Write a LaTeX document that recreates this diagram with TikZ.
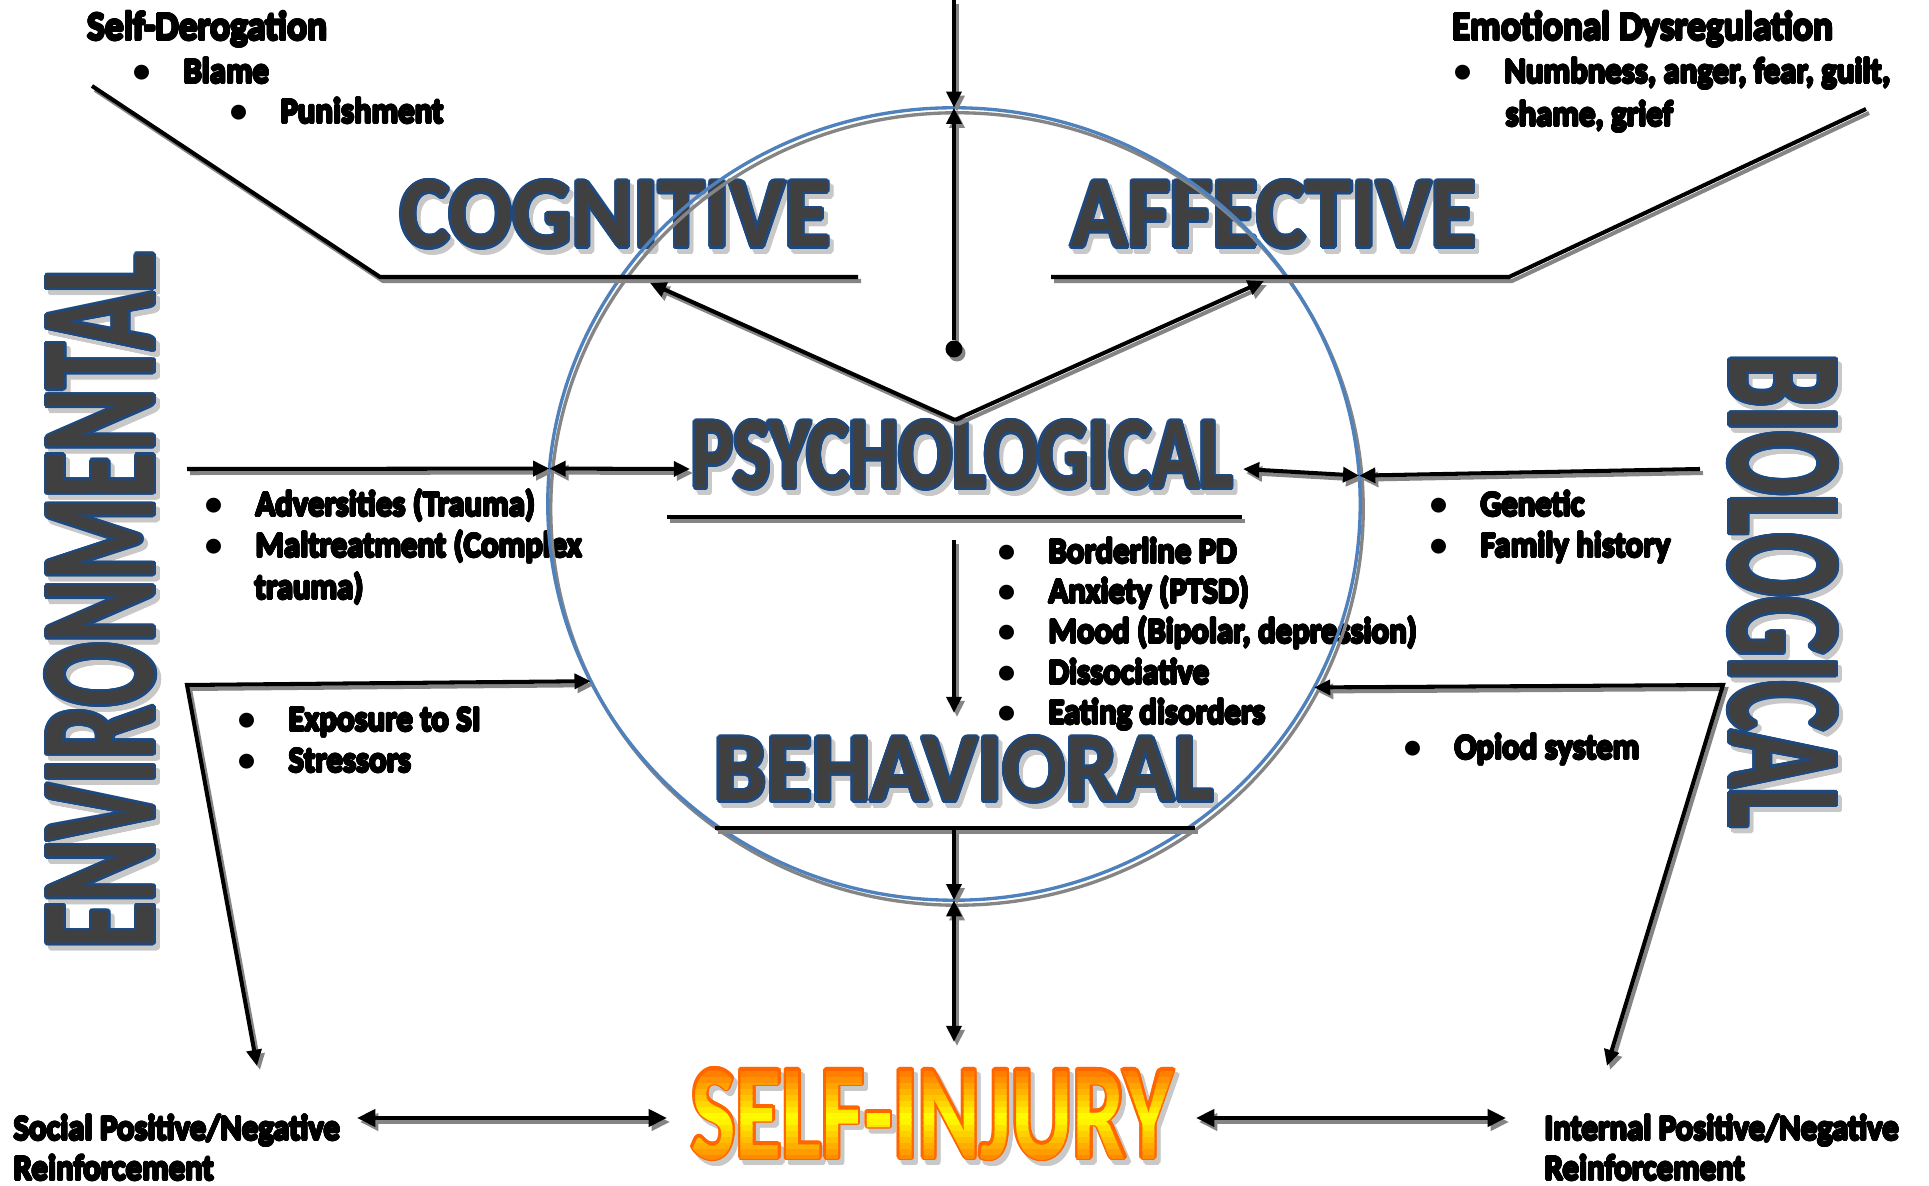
\documentclass[tikz,border=0pt]{standalone}
\usepackage{fontspec}
\setmainfont{Carlito}
\usepackage{graphicx}
\usepackage{contour}
\usetikzlibrary{arrows.meta,shapes.geometric}

\newdimen\pxu
\pxu=0.28453pt

\definecolor{wordgray}{HTML}{404040}
\definecolor{wordblue}{HTML}{1F497D}
\definecolor{wordshade}{HTML}{C8C8C8}
\definecolor{ringblue}{HTML}{4F81BD}
\definecolor{lineshade}{HTML}{858585}
\definecolor{siorange}{HTML}{FF6600}
\definecolor{siyellow}{HTML}{FFFF00}

\contourlength{0.7pt}
\newcommand\hv[1]{\scalebox{0.93}[1]{\contourlength{0.32pt}\contour{black}{#1}}}
\newcommand\itm[1]{\makebox[0pt]{\textbullet}\hspace{11.9pt}\hv{#1}}

\tikzset{
  lbl/.style={anchor=base west, inner sep=0pt, font=\bfseries\fontsize{10}{12}\selectfont},
  head/.style={lbl, font=\bfseries\fontsize{11.4}{13}\selectfont},
  word/.style={inner sep=0pt, text=wordgray, font=\bfseries},
  wordshadow/.style={inner sep=0pt, text=wordshade, font=\bfseries},
  shline/.style={line width=1.15pt},
  arr/.style={shline, -{Triangle[length=4.6pt,width=4.2pt]}},
  dblarr/.style={shline, {Triangle[length=4.6pt,width=4.2pt]}-{Triangle[length=4.6pt,width=4.2pt]}},
  bigdbl/.style={shline, {Triangle[length=5.2pt,width=4.8pt]}-{Triangle[length=5.2pt,width=4.8pt]}},
  ringnode/.style={ellipse, draw=ringblue, line width=0.95pt, inner sep=0pt, outer sep=0pt, minimum width=812\pxu, minimum height=792\pxu},
  dot/.style={circle, inner sep=0pt, minimum size=17\pxu}
}

\begin{document}
\begin{tikzpicture}[x=0.01cm, y=-0.01cm]
  \path[use as bounding box, fill=white] (0,0) rectangle (1929,1186);

  % big headings
  \foreach \nm/\x/\y/\w/\h/\r/\txt in {cog/615.5/215.5/430/66/0/COGNITIVE, aff/1274/215.5/405/66/0/AFFECTIVE,
      psy/962/456/541/67/0/PSYCHOLOGICAL, beh/964/770.5/499/64/0/BEHAVIORAL,
      env/101.5/601/695/108/90/ENVIRONMENTAL, bio/1782/591/473/107/-90/BIOLOGICAL}{
    \node[wordshadow, rotate=\r] at (\x+4,\y+5) {\contour{wordshade}{\resizebox{\w\pxu}{\h\pxu}{\txt}}};
    \node[word, rotate=\r] (\nm) at (\x,\y) {\contour{wordblue}{\resizebox{\w\pxu}{\h\pxu}{\txt}}};
  }

  % self-injury, filled in bands
  \node[wordshadow] at (936,1120) {\contour{wordshade}{\resizebox{481\pxu}{89\pxu}{SELF-INJURY}}};
  \node[word, text=siorange] (selfinj) at (932,1115) {\contour{siorange}{\resizebox{481\pxu}{89\pxu}{SELF-INJURY}}};
  \foreach \i in {0,...,15}{
    \pgfmathsetmacro\p{100-100*abs((\i+0.5)/16-0.55)/0.55}
    \begin{scope}
      \clip (660,1066+\i*6) rectangle (1200,1072.6+\i*6);
      \node[word, text=siyellow!\p!siorange] at (932,1115) {\resizebox{481\pxu}{89\pxu}{SELF-INJURY}};
    \end{scope}
  }

  % lists
  \node[head] (sdhead) at (87,40) {\hv{Self-Derogation}};
  \node[lbl] (blame) at (141,83) {\itm{Blame}};
  \node[lbl] (punish) at (238,123) {\itm{Punishment}};
  \node[head] (edhead) at (1452,40) {\hv{Emotional Dysregulation}};
  \node[lbl] (numb) at (1462,83) {\itm{Numbness, anger, fear, guilt,}};
  \node[lbl] (shame) at (1505,126) {\hv{shame, grief}};
  \node[lbl] (adv) at (213,516) {\itm{Adversities (Trauma)}};
  \node[lbl] (malt) at (213,557) {\itm{Maltreatment (Complex}};
  \node[lbl] (malt2) at (254,599) {\hv{trauma)}};
  \node[lbl] (gen) at (1438,516) {\itm{Genetic}};
  \node[lbl] (fam) at (1438,557) {\itm{Family history}};
  \node[lbl] (bpd) at (1006,563) {\itm{Borderline PD}};
  \node[lbl] (anx) at (1006,603) {\itm{Anxiety (PTSD)}};
  \node[lbl] (mood) at (1006,643) {\itm{Mood (Bipolar, depression)}};
  \node[lbl] (diss) at (1006,684) {\itm{Dissociative}};
  \node[lbl] (eat) at (1006,724) {\itm{Eating disorders}};
  \node[lbl] (expo) at (246,731) {\itm{Exposure to SI}};
  \node[lbl] (stress) at (246,772) {\itm{Stressors}};
  \node[lbl] (opiod) at (1412,759) {\itm{Opiod system}};
  \node[lbl] (soc1) at (13,1140) {\hv{Social Positive/Negative}};
  \node[lbl] (soc2) at (13,1180) {\hv{Reinforcement}};
  \node[lbl] (int1) at (1544,1140) {\hv{Internal Positive/Negative}};
  \node[lbl] (int2) at (1544,1180) {\hv{Reinforcement}};

  % ring
  \node[ringnode, draw=lineshade] at (957,509) {};
  \node[ringnode] (ring) at (954,504) {};

  \coordinate (topin) at (954,0);
  \coordinate (vtip) at (955,420);
  \coordinate (cogtip) at (650,283);
  \coordinate (afftip) at (1264,281);
  \coordinate (cogA) at (92,86);
  \coordinate (cogB) at (380,277);
  \coordinate (cogC) at (858,277);
  \coordinate (affA) at (1051,277);
  \coordinate (affB) at (1509,277);
  \coordinate (affC) at (1866,109);
  \coordinate (psyA) at (667,517);
  \coordinate (psyB) at (1242,517);
  \coordinate (behA) at (715,828);
  \coordinate (behB) at (1195,828);
  \coordinate (envA) at (187,469);
  \coordinate (psyL) at (690,469);
  \coordinate (psyR) at (1243,469);
  \coordinate (bioA) at (1700,469);
  \coordinate (psyD) at (954,540);
  \coordinate (behU) at (954,713);
  \coordinate (behD) at (954,828);
  \coordinate (selfU) at (954,1042);
  \coordinate (envB) at (187,685);
  \coordinate (socT) at (257,1066);
  \coordinate (bioB) at (1723,685);
  \coordinate (intT) at (1607,1066);
  \coordinate (socR) at (357,1118);
  \coordinate (selfL) at (667,1118);
  \coordinate (selfR) at (1196,1118);
  \coordinate (intL) at (1506,1118);

  % connectors: gray shadow pass, then black
  \foreach \dx/\dy/\col in {3/4/lineshade, 0/0/black}{
    \begin{scope}[transform canvas={shift={(\dx,\dy)}}, color=\col]
      \node[dot, fill=\col] (pdot) at (954,349) {};
      \draw[arr] (topin) -- (ring.north);
      \draw[arr] (pdot) -- (ring.north);
      \draw[arr] (vtip) -- (cogtip);
      \draw[arr] (vtip) -- (afftip);

      \draw[shline] (cogA) -- (cogB) -- (cogC);
      \draw[shline] (affA) -- (affB) -- (affC);
      \draw[shline] (psyA) -- (psyB);
      \draw[shline] (behA) -- (behB);

      \draw[arr] (envA) -- (ring.175.05);
      \draw[dblarr] (ring.175.05) -- (psyL);
      \draw[arr] (bioA) -- (ring.4.95);
      \draw[dblarr] (ring.4.95) -- (psyR);

      \draw[arr] (psyD) -- (behU);
      \draw[arr] (behD) -- (ring.south);
      \draw[dblarr] (ring.south) -- (selfU);

      \draw[dblarr] (ring.206.6) -- (envB) -- (socT);
      \draw[dblarr] (ring.333.4) -- (bioB) -- (intT);

      \draw[bigdbl] (socR) -- (selfL);
      \draw[bigdbl] (selfR) -- (intL);
    \end{scope}
  }
\end{tikzpicture}
\end{document}
